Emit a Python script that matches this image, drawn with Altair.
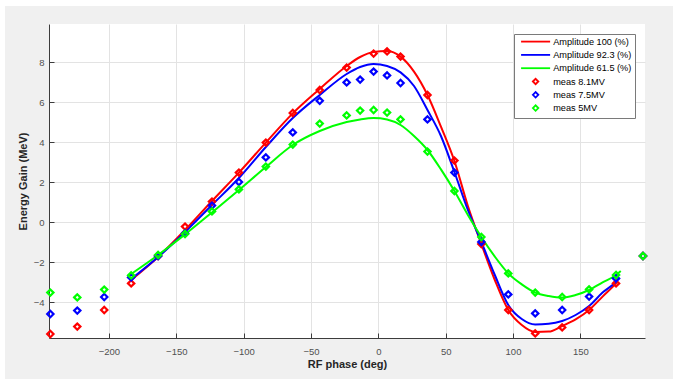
import altair as alt
import pandas as pd

# ---------------- data ----------------
series_names = ["Amplitude 100 (%)", "Amplitude 92.3 (%)", "Amplitude 61.5 (%)",
                "meas 8.1MV", "meas 7.5MV", "meas 5MV"]
series_colors = ["#ff0000", "#0000ff", "#00ff00", "#ff0000", "#0000ff", "#00ff00"]

# simulated curves (RF phase in deg -> energy gain in MeV)
curve_x = [-183.5, -163.5, -143.5, -123.5, -103.5, -83.5, -63.5, -43.5, -23.5, -13.5,
           -3.5, 6.5, 16.5, 26.5, 36.5, 46.5, 56.5, 66.5, 76.5, 86.5, 96.5, 106.5,
           116.5, 126.5, 136.5, 146.5, 156.5, 166.5, 176.5]
amp_100 = [-2.9, -1.75, -0.4, 1.05, 2.47, 3.97, 5.43, 6.65, 7.8, 8.25,
           8.5, 8.55, 8.27, 7.52, 6.35, 4.77, 3.05, 0.8, -1.1, -2.9, -4.4, -5.15,
           -5.5, -5.48, -5.2, -4.87, -4.4, -3.73, -3.07]
amp_923 = [-2.85, -1.75, -0.5, 0.85, 2.2, 3.75, 5.2, 6.35, 7.4, 7.75,
           7.9, 7.8, 7.48, 6.8, 5.6, 4.3, 2.5, 0.6, -1.0, -2.65, -4.15, -4.85,
           -5.12, -5.09, -4.95, -4.65, -4.2, -3.53, -2.98]
amp_615 = [-2.6, -1.65, -0.62, 0.48, 1.6, 2.75, 3.85, 4.55, 5.0, 5.13,
           5.2, 5.13, 4.85, 4.3, 3.6, 2.63, 1.55, 0.35, -0.75, -1.73, -2.57, -3.12,
           -3.53, -3.7, -3.78, -3.65, -3.4, -3.02, -2.65]
curve_end_x = [177.7, 178.7, 180.0]
curve_end_y = [-2.98, -2.8, -2.45]

# measurements
meas_x = [-243.5, -223.5, -203.5, -183.5, -163.5, -143.5, -123.5, -103.5, -83.5, -63.5,
          -43.5, -23.5, -13.5, -3.5, 6.5, 16.5, 36.5, 56.5, 76.5, 96.5, 116.5, 136.5,
          156.5, 176.5, 196.5]
meas_81 = [-5.6, -5.23, -4.4, -3.07, -1.7, -0.23, 1.02, 2.47, 3.97, 5.45,
           6.6, 7.72, None, 8.42, 8.53, 8.27, 6.35, 3.07, -1.1, -4.4, -5.57, -5.27,
           -4.4, -3.07, -1.7]
meas_75 = [-4.6, -4.43, -3.75, -2.77, -1.7, -0.57, 0.82, 2.0, 3.23, 4.48,
           6.06, 6.98, 7.12, 7.52, 7.33, 6.95, 5.13, 2.47, -1.0, -3.62, -4.57, -4.4,
           -3.73, -2.82, -1.7]
meas_5 = [-3.53, -3.77, -3.38, -2.67, -1.65, -0.6, 0.53, 1.63, 2.77, 3.87,
          4.92, 5.33, 5.57, 5.6, 5.47, 5.13, 3.52, 1.55, -0.75, -2.57, -3.53, -3.75,
          -3.37, -2.65, -1.7]

x_ticks = [-200, -150, -100, -50, 0, 50, 100, 150]
y_ticks = [-4, -2, 0, 2, 4, 6, 8]
x_domain = [-244.5, 198]
y_domain = [-5.8, 9.9]

# ---------------- tables ----------------
rows = []
for name, ys, ex, ey in zip(series_names[:3], [amp_100, amp_923, amp_615], curve_end_x, curve_end_y):
    for i, (xv, yv) in enumerate(zip(curve_x + [ex], ys + [ey])):
        rows.append({"phase": xv, "gain": yv, "series": name, "ord": i})
lines_df = pd.DataFrame(rows)

rows = []
for name, ys in zip(series_names[3:], [meas_81, meas_75, meas_5]):
    for xv, yv in zip(meas_x, ys):
        if yv is not None:
            rows.append({"phase": xv, "gain": yv, "series": name})
meas_df = pd.DataFrame(rows)

# ---------------- styling ----------------
W, H = 596, 314
FONT = "Liberation Sans"
# horizontal line symbol for the curve entries (moveTo points keep the row height equal to the diamonds)
LINE_SYM = "M0,-1M0,1M-5.3,0H5.3"
shape_range = [LINE_SYM, LINE_SYM, LINE_SYM, "diamond", "diamond", "diamond"]

xscale = alt.Scale(domain=x_domain, nice=False, zero=False)
yscale = alt.Scale(domain=y_domain, nice=False, zero=False)

x_axis = alt.Axis(orient="bottom", values=x_ticks, title="RF phase (deg)", grid=True,
                  gridColor="#e3e3e3", domainColor="#3c3c3c", ticks=False, labelPadding=8,
                  labelFontSize=9.5, labelColor="#505050", labelFont=FONT, titleFont=FONT,
                  titleFontSize=11, titleFontWeight="bold", titleColor="#262626",
                  titlePadding=3)
y_axis = alt.Axis(orient="left", values=y_ticks, title="Energy Gain (MeV)", grid=True,
                  gridColor="#e3e3e3", domainColor="#3c3c3c", ticks=False, labelPadding=5,
                  labelFontSize=9.5, labelColor="#505050", labelFont=FONT, titleFont=FONT,
                  titleFontSize=11, titleFontWeight="bold", titleColor="#262626",
                  titlePadding=5)

legend = alt.Legend(title=None, orient="top-right", offset=10, fillColor="white",
                    strokeColor="#7a7a7a", padding=3, rowPadding=0.3, labelFontSize=9.2,
                    labelFont=FONT, labelColor="#000000", symbolSize=30,
                    symbolStrokeWidth=1.8, labelOffset=13, symbolOffset=14)

color_enc = alt.Color("series:N", scale=alt.Scale(domain=series_names, range=series_colors),
                      legend=legend)
shape_enc = alt.Shape("series:N", scale=alt.Scale(domain=series_names, range=shape_range),
                      legend=legend)

lines = alt.Chart(lines_df).mark_line(strokeWidth=2, interpolate="monotone").encode(
    x=alt.X("phase:Q", scale=xscale, axis=x_axis),
    y=alt.Y("gain:Q", scale=yscale, axis=y_axis),
    color=color_enc,
    order="ord:Q",
)

points = alt.Chart(meas_df).mark_point(filled=False, strokeWidth=2.2, size=40, opacity=1).encode(
    x=alt.X("phase:Q", scale=xscale, axis=None),
    y=alt.Y("gain:Q", scale=yscale, axis=None),
    color=color_enc,
    shape=shape_enc,
)

# inward-pointing ticks
tick_x_axis = alt.Axis(orient="top", offset=-H, values=x_ticks, labels=False, domain=False,
                       grid=False, ticks=True, tickSize=5, tickColor="#3c3c3c", title="")
tick_y_axis = alt.Axis(orient="right", offset=-W, values=y_ticks, labels=False, domain=False,
                       grid=False, ticks=True, tickSize=5, tickColor="#3c3c3c", title="")
ticks = alt.Chart(meas_df).mark_point(opacity=0).encode(
    x=alt.X("phase:Q", scale=xscale, axis=tick_x_axis),
    y=alt.Y("gain:Q", scale=yscale, axis=tick_y_axis),
)

# white frame strips of the figure window
one = pd.DataFrame({"k": [0]})
strip_top = alt.Chart(one).mark_rect(color="white").encode(
    x=alt.value(-49), x2=alt.value(624), y=alt.value(-24), y2=alt.value(-18))
strip_left = alt.Chart(one).mark_rect(color="white").encode(
    x=alt.value(-49), x2=alt.value(-44), y=alt.value(-24), y2=alt.value(355))

chart = alt.layer(strip_top, strip_left, lines, points, ticks).resolve_axis(
    x="independent", y="independent"
).properties(
    width=W, height=H,
    padding={"left": 49, "top": 24, "right": 28, "bottom": 41},
    autosize=alt.AutoSizeParams(type="none"),
    background="#f0f0f0",
).configure_view(fill="white", strokeWidth=0)

chart.save("out.html", embed_options={"renderer": "svg", "actions": False})
